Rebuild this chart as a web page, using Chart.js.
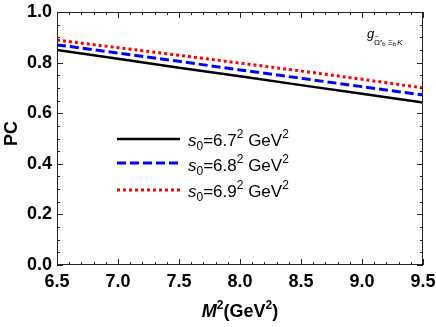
<!DOCTYPE html>
<html><head><meta charset="utf-8">
<script src="https://cdn.jsdelivr.net/npm/chart.js@4/dist/chart.umd.min.js"></script>
<style>html,body{margin:0;padding:0;background:#fff}#wrap{width:436px;height:327px}</style>
</head><body><div id="wrap"><canvas id="c" width="436" height="327"></canvas></div>
<script>
const M2 = [6.5, 7.0, 7.5, 8.0, 8.5, 9.0, 9.5];
const pc67 = [0.850, 0.815, 0.780, 0.746, 0.711, 0.677, 0.642];
const pc68 = [0.870, 0.838, 0.805, 0.771, 0.738, 0.705, 0.672];
const pc69 = [0.889, 0.859, 0.829, 0.798, 0.767, 0.734, 0.700];
const legendLabels = ['6.7', '6.8', '6.9'];
const xTicks = [6.5, 7.0, 7.5, 8.0, 8.5, 9.0, 9.5];
const yTicks = [0.0, 0.2, 0.4, 0.6, 0.8, 1.0];

const styles = [
  {color:'#000000', width:2.5, dash:[]},
  {color:'#0000ff', width:3, dash:[9,4]},
  {color:'#ff0000', width:3, dash:[3,3]}
];
const series = [pc67, pc68, pc69];
const datasets = series.map((s,i)=>({
  data: M2.map((x,j)=>({x:x, y:s[j]})),
  borderColor: styles[i].color, borderWidth: styles[i].width, borderDash: styles[i].dash,
  pointRadius:0, fill:false, tension:0
}));

const BOLD = 'bold 18px "Liberation Sans", Arial, sans-serif';

const deco = {
  id:'deco',
  afterDraw(chart){
    const ctx = chart.ctx, a = chart.chartArea, xs = chart.scales.x, ys = chart.scales.y;
    ctx.save();
    ctx.strokeStyle = '#222'; ctx.lineWidth = 1;
    ctx.strokeRect(a.left+0.5, a.top+0.5, a.right-a.left-1, a.bottom-a.top-1);
    ctx.beginPath();
    for (let v = 6.5; v <= 9.5001; v += 0.1) {
      const px = Math.round(xs.getPixelForValue(v))+0.5;
      const major = Math.abs(Math.round(v*2) - v*2) < 1e-6;
      const L = major ? 6 : 3;
      ctx.moveTo(px, a.bottom); ctx.lineTo(px, a.bottom - L);
      ctx.moveTo(px, a.top); ctx.lineTo(px, a.top + L);
    }
    for (let v = 0; v <= 1.0001; v += 0.05) {
      const py = Math.round(ys.getPixelForValue(v))+0.5;
      const major = Math.abs(Math.round(v*5) - v*5) < 1e-6;
      const L = major ? 6 : 3;
      ctx.moveTo(a.left, py); ctx.lineTo(a.left + L, py);
      ctx.moveTo(a.right, py); ctx.lineTo(a.right - L, py);
    }
    ctx.stroke();

    ctx.fillStyle = '#000';
    ctx.textBaseline = 'alphabetic';
    const xt = [
      {t:'M', f:'italic bold 18px "Liberation Sans", Arial, sans-serif', dy:0},
      {t:'2', f:'bold 12px "Liberation Sans", Arial, sans-serif', dy:-8},
      {t:'(GeV', f:BOLD, dy:0},
      {t:'2', f:'bold 12px "Liberation Sans", Arial, sans-serif', dy:-8},
      {t:')', f:BOLD, dy:0}
    ];
    let w = 0; xt.forEach(p=>{ctx.font=p.f; w+=ctx.measureText(p.t).width;});
    let x0 = (a.left+a.right)/2 - w/2, yb = 317;
    xt.forEach(p=>{ctx.font=p.f; ctx.fillText(p.t, x0, yb+p.dy); x0+=ctx.measureText(p.t).width;});
    ctx.save();
    ctx.translate(17, (a.top+a.bottom)/2 - 5);
    ctx.rotate(-Math.PI/2);
    ctx.font = BOLD; ctx.textAlign='center';
    ctx.fillText('PC', 0, 0);
    ctx.restore();

    const rows = [139, 163, 190], bases = [146, 171, 197];
    legendLabels.forEach((lab,i)=>{
      ctx.beginPath();
      ctx.strokeStyle = styles[i].color; ctx.lineWidth = styles[i].width;
      ctx.setLineDash(styles[i].dash);
      ctx.moveTo(117, rows[i]); ctx.lineTo(180, rows[i]); ctx.stroke();
      ctx.setLineDash([]);
      const parts = [
        {t:'s', f:'italic 17px "Liberation Sans", Arial, sans-serif', dy:0},
        {t:'0', f:'12px "Liberation Sans", Arial, sans-serif', dy:4},
        {t:'='+lab, f:'17px "Liberation Sans", Arial, sans-serif', dy:0},
        {t:'2', f:'12px "Liberation Sans", Arial, sans-serif', dy:-8},
        {t:' GeV', f:'17px "Liberation Sans", Arial, sans-serif', dy:0},
        {t:'2', f:'12px "Liberation Sans", Arial, sans-serif', dy:-8}
      ];
      let xx = 188;
      ctx.fillStyle = '#000';
      parts.forEach(p=>{ctx.font=p.f; ctx.fillText(p.t, xx, bases[i]+p.dy); xx+=ctx.measureText(p.t).width;});
    });

    // annotation g with subscript Omega~ b Xi_b K
    ctx.font = 'italic 13px "Liberation Sans", Arial, sans-serif';
    ctx.fillText('g', 367, 38);
    let ax = 374;
    const sb = 45;
    ctx.font = '8px "Liberation Sans", Arial, sans-serif';
    ctx.fillText('\u03A9', ax, sb);
    const ow = ctx.measureText('\u03A9').width;
    ctx.font = '6px "Liberation Sans", Arial, sans-serif';
    ctx.fillText('~', ax + ow/2 - 2, sb - 7);
    ax += ow;
    ctx.fillText('*', ax, sb - 1); ax += ctx.measureText('*').width;
    ctx.fillText('b', ax, sb + 1); ax += ctx.measureText('b').width + 2;
    ctx.font = '8px "Liberation Sans", Arial, sans-serif';
    ctx.fillText('\u039E', ax, sb); ax += ctx.measureText('\u039E').width;
    ctx.font = '6px "Liberation Sans", Arial, sans-serif';
    ctx.fillText('b', ax, sb + 1); ax += ctx.measureText('b').width + 1;
    ctx.font = 'italic 8px "Liberation Sans", Arial, sans-serif';
    ctx.fillText('K', ax, sb);
    ctx.restore();
  }
};

new Chart(document.getElementById('c'), {
  type:'line',
  data:{datasets},
  options:{
    responsive:false, animation:false, devicePixelRatio:1,
    layout:{padding:{left:0, right:13, top:12, bottom:0}},
    plugins:{legend:{display:false}, tooltip:{enabled:false}},
    scales:{
      x:{type:'linear', min:6.5, max:9.5,
        afterBuildTicks: s=>{ s.ticks = xTicks.map(v=>({value:v})); },
        afterFit: s=>{ s.height = 62; s.paddingLeft = 0; s.paddingRight = 0; },
        grid:{display:false, drawTicks:false}, border:{display:false},
        ticks:{padding:6, color:'#000', font:{family:'"Liberation Sans", Arial, sans-serif', size:18, weight:'bold'},
          maxRotation:0, autoSkip:false, callback:v=>Number(v).toFixed(1)}},
      y:{type:'linear', min:0, max:1,
        afterBuildTicks: s=>{ s.ticks = yTicks.map(v=>({value:v})); },
        afterFit: s=>{ s.width = 57; s.paddingTop = 0; s.paddingBottom = 0; },
        grid:{display:false, drawTicks:false}, border:{display:false},
        ticks:{padding:5, color:'#000', font:{family:'"Liberation Sans", Arial, sans-serif', size:18, weight:'bold'},
          autoSkip:false, callback:v=>Number(v).toFixed(1)}}
    }
  },
  plugins:[deco]
});
</script></body></html>
